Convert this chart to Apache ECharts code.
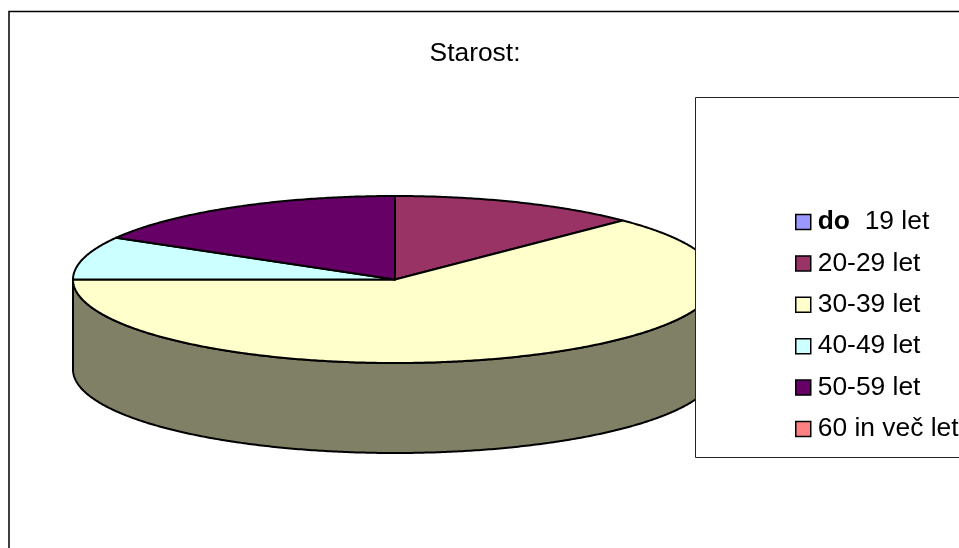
<!DOCTYPE html>
<html>
<head>
<meta charset="utf-8">
<style>html,body{margin:0;padding:0;background:#fff;overflow:hidden}#c{width:959px;height:548px}</style>
<script src="https://cdn.jsdelivr.net/npm/echarts@6/dist/echarts.min.js"></script>
</head>
<body>
<div id="c"></div>
<script>
const titleText = 'Starost:';
const categories = ['do 19 let', '20-29 let', '30-39 let', '40-49 let', '50-59 let', '60 in več let'];
const values = [0, 3, 15, 2, 4, 0];
const colors = ['#9999FF', '#993366', '#FFFFCC', '#CCFFFF', '#660066', '#FF8080'];

const FONT = '"Liberation Sans", Arial, sans-serif';
const FONT_SIZE = 26.4;
const PIE = { cx: 395, cy: 279.5, rx: 322, ry: 83.5, depth: 90 };
const total = values.reduce((a, b) => a + b, 0);

function pt(deg, dy) {
  const a = deg * Math.PI / 180;
  return [PIE.cx + PIE.rx * Math.sin(a), PIE.cy - PIE.ry * Math.cos(a) + (dy || 0)];
}
function arc(from, to, dy) {
  const out = [];
  const step = to >= from ? 1 : -1;
  for (let d = from; step > 0 ? d < to : d > to; d += step * 0.5) out.push(pt(d, dy));
  out.push(pt(to, dy));
  return out;
}
function shade(c) {
  const p = echarts.color.parse(c);
  return 'rgb(' + [p[0], p[1], p[2]].map(x => Math.round(x / 2)).join(',') + ')';
}
const edge = { stroke: '#000', lineWidth: 2, lineJoin: 'round' };

function renderSlice(params, api) {
  const i = params.seriesIndex;
  const v = api.value(0);
  if (!v) return { type: 'group', children: [] };
  const start = values.slice(0, i).reduce((a, b) => a + b, 0) / total * 360;
  const end = start + v / total * 360;
  const fill = colors[i];
  const children = [];
  const s = Math.max(start, 90), e = Math.min(end, 270);
  if (e > s) {
    children.push({
      type: 'polygon',
      shape: { points: arc(s, e, 0).concat(arc(e, s, PIE.depth)) },
      style: Object.assign({ fill: shade(fill) }, edge)
    });
  }
  children.push({
    type: 'polygon',
    shape: { points: [[PIE.cx, PIE.cy]].concat(arc(start, end, 0)) },
    style: Object.assign({ fill }, edge)
  });
  return { type: 'group', children };
}

const chart = echarts.init(document.getElementById('c'), null, { renderer: 'canvas' });
chart.setOption({
  animation: false,
  backgroundColor: '#fff',
  title: {
    text: titleText,
    left: 470,
    top: 36,
    textAlign: 'center',
    textStyle: { fontFamily: FONT, fontSize: FONT_SIZE, fontWeight: 'normal', color: '#000' }
  },
  legend: {
    orient: 'vertical',
    left: 795,
    top: 209,
    padding: 0,
    z: 10,
    itemWidth: 15,
    itemHeight: 15,
    itemGap: 15.4,
    icon: 'rect',
    data: categories,
    selectedMode: false,
    itemStyle: { borderColor: '#000', borderWidth: 1.5 },
    textStyle: {
      fontFamily: FONT, fontSize: FONT_SIZE, color: '#000', lineHeight: 26, padding: [0, 0, 0, 2],
      rich: { b: { fontFamily: FONT, fontSize: FONT_SIZE, fontWeight: 'bold', color: '#000', lineHeight: 26 } }
    },
    formatter: n => n.replace(/^do /, '{b|do}  ')
  },
  graphic: [
    { type: 'rect', z: 1, silent: true, shape: { x: 9, y: 11.5, width: 1000, height: 600 },
      style: { fill: '#fff', stroke: '#000', lineWidth: 1.5 } },
    { type: 'rect', z: 5, silent: true, shape: { x: 695.5, y: 97.5, width: 400, height: 360 },
      style: { fill: '#fff', stroke: '#222', lineWidth: 1 } }
  ],
  series: categories.map((name, i) => ({
    type: 'custom',
    name,
    coordinateSystem: 'none',
    z: 3,
    silent: true,
    itemStyle: { color: colors[i] },
    renderItem: renderSlice,
    data: [[values[i]]]
  }))
});
</script>
</body>
</html>
